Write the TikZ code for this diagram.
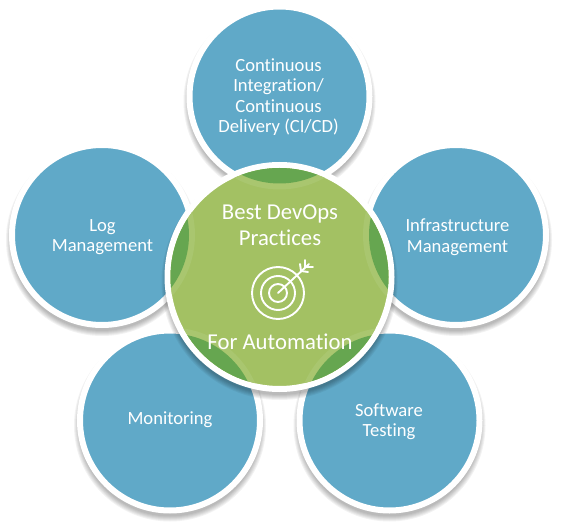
\documentclass[tikz,border=0pt]{standalone}
\usepackage{fontspec}
\setmainfont[RawFeature=-liga]{Carlito}
\definecolor{petal}{HTML}{60A9C8}
\definecolor{hub}{HTML}{A3C163}
\definecolor{hubring}{HTML}{A9C66F}
\definecolor{hubdark}{HTML}{66A650}

\begin{document}
\begin{tikzpicture}
[x=1pt,y=-1pt,%%%%%%%%%%%%%%%%%%%%%%%%%%%%%%
petal/.style={circle,draw=white,line width=6pt,fill=petal,minimum size=180pt,inner sep=0pt},
petallabel/.style={text=white,align=center,inner sep=0pt,font=\fontsize{18.6}{20.5}\selectfont},
hub/.style={circle,draw=white,line width=6pt,fill=hub,minimum size=224pt,inner sep=0pt},
hublabel/.style={text=white,align=center,inner sep=0pt,font=\fontsize{22.7}{26.5}\selectfont},
target/.style={draw=white,line width=1.9pt,line cap=round},
]%%%%%%%%%%%%%%%%%%%%%%%%%%%%%%
\useasboundingbox (0,0) rectangle (564,529);

% soft shadows
\foreach \x/\y in {279.5/96.5,102/235,456/235,170/420.5,389.5/420.5}{
\foreach \r in {91,92,93,94,95,96}
\fill[black,opacity=.05] (\x,\y+5) circle (\r);
}
\node[petal] (cicd) at (279.5,96.5){};
\node[petal] (logs) at (102,235){};
\node[petal] (infra) at (456,235){};
\node[petal] (monitor) at (170,420.5){};
\node[petal] (testing) at (389.5,420.5){};

\node[petallabel] (cicdlabel) at (278.5,97){Continuous\\Integration/\\Continuous\\Delivery (CI/CD)};
\node[petallabel] (logslabel) at (102.5,237){Log\\Management};
\node[petallabel] (infralabel) at (457.5,237){Infrastructure\\Management};
\node[petallabel] (monitorlabel) at (170,420){Monitoring};
\node[petallabel] (testinglabel) at (389,421.5){Software\\Testing};

\foreach \r in {113,114,115,116,117,118}
\fill[black,opacity=.05] (279.5,282) circle (\r);
\node[hub] (centre) at (279.5,277){};

% petals seen through the hub
\begin{scope}
\clip (279.5,277) circle (109);
\foreach \x/\y in {279.5/96.5,102/235,456/235,170/420.5,389.5/420.5}{
\fill[hubring] (\x,\y) circle (93);
\fill[hubdark] (\x,\y) circle (87);
}
\end{scope}

\node[hublabel] (best) at (280,225){Best DevOps\\Practices};
\node[hublabel] (auto) at (280,342){For Automation};

% target
\draw[target] (278,293) circle (26);
\draw[target] (278,293) circle (17);
\draw[target] (278,293) circle (9);
\draw[target] (278,293) -- (309,264);
\draw[target] (301,271) -- (300,264);
\draw[target] (301,271) -- (308,272);
\draw[target] (305,267) -- (305,260);
\draw[target] (305,267) -- (313,267);
\end{tikzpicture}
\end{document}
